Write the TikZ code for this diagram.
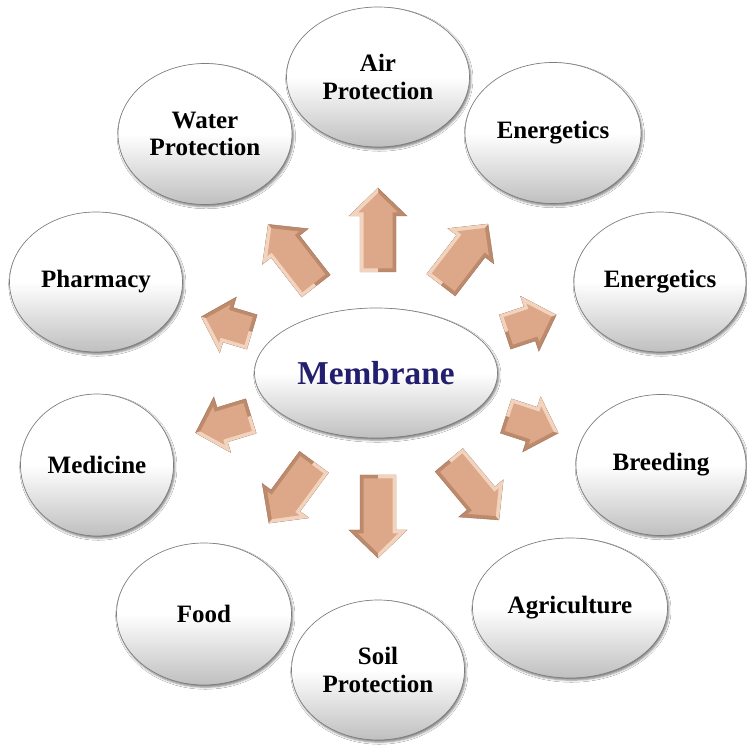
\documentclass[tikz,border=0pt]{standalone}
\usepackage{fontspec}
\setmainfont{Liberation Serif}
\usetikzlibrary{shapes.geometric,shadows.blur}

\definecolor{membranetext}{RGB}{35,30,110}
\definecolor{arrowface}{RGB}{221,168,138}
\definecolor{arrowedge}{RGB}{190,138,108}
\definecolor{arrowlight}{RGB}{242,212,190}
\definecolor{rimgray}{RGB}{125,125,125}

\tikzset{
  bubble/.style={ellipse, draw=rimgray, line width=0.5pt,
    top color=white, bottom color=black!25, middle color=white,
    blur shadow={shadow xshift=1pt, shadow yshift=-1.6pt,
      shadow blur radius=1.6pt, shadow opacity=50},
    inner sep=0pt, align=center,
    font=\bfseries\fontsize{18.75pt}{20.5pt}\selectfont},
  hubbubble/.style={bubble, text=membranetext,
    font=\bfseries\fontsize{25pt}{27pt}\selectfont},
  arrowbase/.style={fill=arrowedge, draw=arrowedge!85!black, line width=0.3pt},
  arrowbevel/.style={fill=arrowlight},
  arrowtop/.style={fill=arrowface},
}

% Bevelled block arrow: #1 start coordinate (middle of the tail),
% #2 heading in degrees, #3 length in pixels; the lit bevel runs
% along the arrow's left-hand side
\newcommand\bevelarrow[3]{%
  \begin{scope}[shift={(#1)}, rotate=#2]
    \path[arrowbase] (0,-18) -- (#3-28,-18) -- (#3-28,-29) -- (#3,0)
      -- (#3-28,29) -- (#3-28,18) -- (0,18) -- cycle;
    \path[arrowbevel] (0,0) -- (0,-18) -- (#3-28,-18) -- (#3-28,-29)
      -- (#3,0) -- cycle;
    \path[arrowtop] (3.5,-14.5) -- (#3-24.5,-14.5) -- (#3-24.5,-20) -- (#3-5,0)
      -- (#3-24.5,20) -- (#3-24.5,14.5) -- (3.5,14.5) -- cycle;
  \end{scope}}

\begin{document}
\begin{tikzpicture}[x=0.75pt, y=-0.75pt]
  \fill[white] (0,0) rectangle (747,745);
  \useasboundingbox (0,0) rectangle (747,745);

  % outer topics
  \node[bubble, minimum width=137.25pt, minimum height=105pt]   (air)   at (378,77)  {Air\\Protection};
  \node[bubble, minimum width=130.5pt,  minimum height=105.75pt] (water) at (205,134) {Water\\Protection};
  \node[bubble, minimum width=132pt,    minimum height=105.75pt] (ener1) at (553,133) {Energetics};
  \node[bubble, minimum width=129.75pt, minimum height=105pt]   (pharm) at (96,282)  {Pharmacy};
  \node[bubble, minimum width=129pt,    minimum height=105pt]   (ener2) at (660,282) {Energetics};
  \node[bubble, minimum width=114.75pt, minimum height=106.5pt] (med)   at (97,465)  {Medicine};
  \node[bubble, minimum width=127.5pt,  minimum height=105.75pt] (breed) at (661,465) {Breeding};
  \node[bubble, minimum width=131.25pt, minimum height=106.5pt] (food)  at (204,614) {Food};
  \node[bubble, minimum width=146.25pt, minimum height=105pt]   (agri)  at (570,608) {Agriculture};
  \node[bubble, minimum width=129.75pt, minimum height=105pt]   (soil)  at (378,670) {Soil\\Protection};

  % central topic
  \node[hubbubble, minimum width=182.25pt, minimum height=97.5pt] (hub) at (376,373) {Membrane};

  % tails of the arrows around the hub
  \coordinate (tAir)   at (378,272);
  \coordinate (tWater) at (316,286);
  \coordinate (tEner1) at (441,285);
  \coordinate (tEner2) at (505,332);
  \coordinate (tPharm) at (252,332);
  \coordinate (tMed)   at (251,416);
  \coordinate (tFood)  at (314,462);
  \coordinate (tSoil)  at (378,475);
  \coordinate (tAgri)  at (449,460);
  \coordinate (tBreed) at (506,416);

  \bevelarrow{tAir}{90}{84}
  \bevelarrow{tWater}{127.8}{78}
  \bevelarrow{tEner1}{52.4}{77}
  \bevelarrow{tEner2}{18.4}{54}
  \bevelarrow{tPharm}{163.3}{53}
  \bevelarrow{tMed}{196.9}{58}
  \bevelarrow{tFood}{233.6}{76}
  \bevelarrow{tSoil}{270}{83}
  \bevelarrow{tAgri}{309.8}{78}
  \bevelarrow{tBreed}{341.9}{55}
\end{tikzpicture}
\end{document}
